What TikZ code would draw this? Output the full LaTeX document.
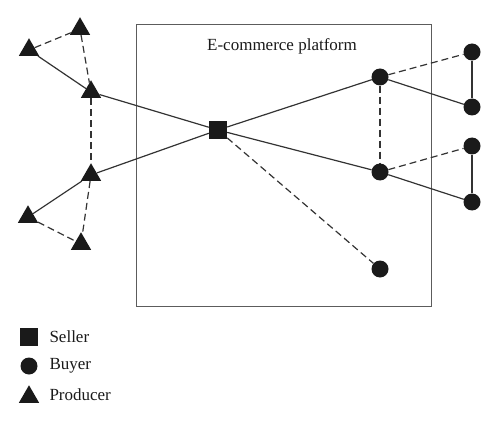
\documentclass[tikz,border=0pt]{standalone}
\usepackage{fontspec}
\setmainfont{Liberation Serif}
\usetikzlibrary{shapes.geometric}
\definecolor{ink}{HTML}{1A1A1A}
\definecolor{edge}{HTML}{333333}
\begin{document}
\begin{tikzpicture}[x=1pt,y=-1pt,
  seller/.style={rectangle,fill=ink,minimum size=18pt,inner sep=0pt},
  buyer/.style={circle,fill=ink,minimum size=17pt,inner sep=0pt},
  producer/.style={regular polygon,regular polygon sides=3,fill=ink,minimum size=23.5pt,inner sep=0pt},
  solidedge/.style={draw=edge,line width=1.2pt},
  dashedge/.style={draw=edge,line width=1.2pt,dash pattern=on 7pt off 4pt},
  lbl/.style={font=\fontsize{17}{20}\selectfont,text=ink}]
\useasboundingbox (0,0) rectangle (500,422);
\node[draw=edge!80,line width=1.1pt,minimum width=295pt,minimum height=282pt,anchor=north west,inner sep=0pt] (platform) at (136,24) {};
\node[lbl] (title) at (282,46) {E-commerce platform};
% producers
\node[producer] (t1) at (29,50) {};
\node[producer] (t2) at (80,29) {};
\node[producer] (t3) at (91,92) {};
\node[producer] (t4) at (91,175) {};
\node[producer] (t5) at (28,217) {};
\node[producer] (t6) at (81,244) {};
% seller
\node[seller] (s) at (218,130) {};
% buyers
\node[buyer] (b1) at (380,77) {};
\node[buyer] (b2) at (380,172) {};
\node[buyer] (b3) at (380,269) {};
\node[buyer] (r1) at (472,52) {};
\node[buyer] (r2) at (472,107) {};
\node[buyer] (r3) at (472,146) {};
\node[buyer] (r4) at (472,202) {};
% solid edges
\path[solidedge] (t1) -- (t3);
\path[solidedge] (t3) -- (s);
\path[solidedge] (t4) -- (s);
\path[solidedge] (t4) -- (t5);
\path[solidedge] (s) -- (b1);
\path[solidedge] (s) -- (b2);
\path[solidedge] (b1) -- (r2);
\path[solidedge] (b2) -- (r4);
\path[solidedge] (r1) -- (r2);
\path[solidedge] (r3) -- (r4);
% dashed edges
\path[dashedge] (t1) -- (t2);
\path[dashedge] (t2) -- (t3);
\path[dashedge] (t3) -- (t4);
\path[dashedge] (t4) -- (t6);
\path[dashedge] (t5) -- (t6);
\path[dashedge] (s) -- (b3);
\path[dashedge] (b1) -- (b2);
\path[dashedge] (b1) -- (r1);
\path[dashedge] (b2) -- (r3);
% legend
\node[seller] (ls) at (29,337) {};
\node[buyer] (lb) at (29,366) {};
\node[producer] (lp) at (29,397) {};
\node[lbl,anchor=west] (lst) at (46,337) {Seller};
\node[lbl,anchor=west] (lbt) at (46,366) {Buyer};
\node[lbl,anchor=west] (lpt) at (46,395) {Producer};
\end{tikzpicture}
\end{document}
